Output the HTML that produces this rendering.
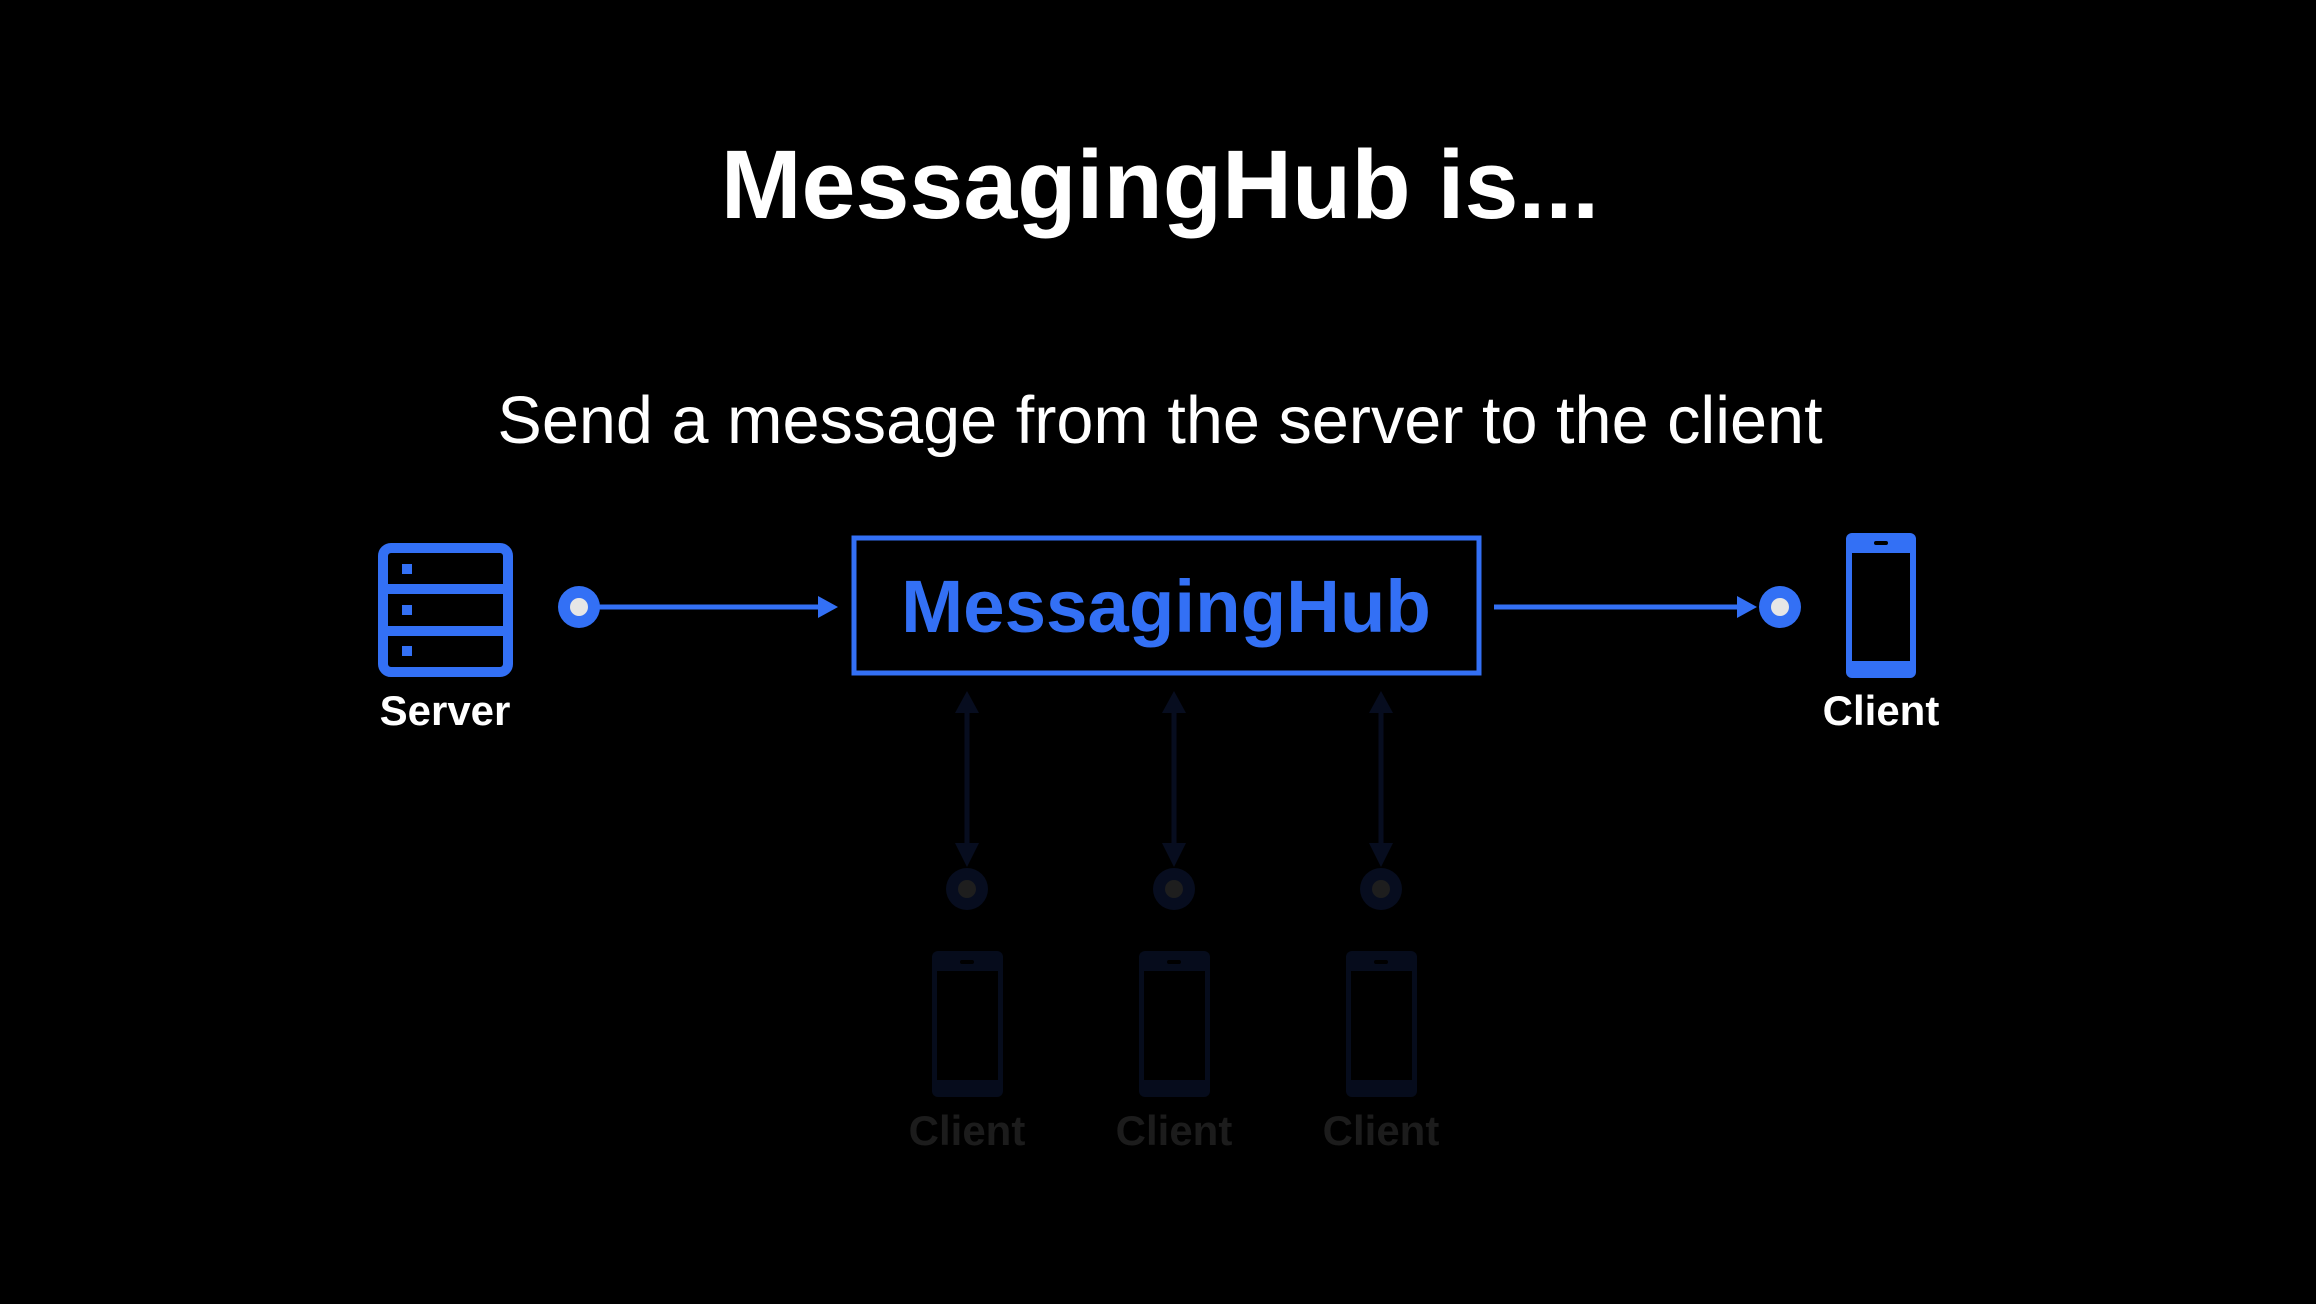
<!DOCTYPE html>
<html><head><meta charset="utf-8"><style>
html,body{margin:0;padding:0;background:#000;}
svg{display:block;}
</style></head><body>
<svg width="2316" height="1304" viewBox="0 0 2316 1304" xmlns="http://www.w3.org/2000/svg">
<rect width="2316" height="1304" fill="#000"/>
<text x="1160" y="218" text-anchor="middle" font-family="Liberation Sans, sans-serif" font-weight="bold" font-size="97" fill="#fff">MessagingHub is...</text>
<text x="1160" y="443" text-anchor="middle" font-family="Liberation Sans, sans-serif" font-size="66.6" fill="#fff">Send a message from the server to the client</text>

<!-- Server icon -->
<rect x="383" y="548" width="125" height="124" rx="8" fill="none" stroke="#3370f5" stroke-width="10"/>
<line x1="383" y1="589" x2="508" y2="589" stroke="#3370f5" stroke-width="10"/>
<line x1="383" y1="631" x2="508" y2="631" stroke="#3370f5" stroke-width="10"/>
<rect x="402" y="564" width="10" height="10" fill="#3370f5"/>
<rect x="402" y="605" width="10" height="10" fill="#3370f5"/>
<rect x="402" y="646" width="10" height="10" fill="#3370f5"/>
<text x="445" y="725" text-anchor="middle" font-family="Liberation Sans, sans-serif" font-weight="bold" font-size="42" fill="#fff">Server</text>

<!-- left dot + arrow -->
<circle cx="579" cy="607" r="21" fill="#3370f5"/>
<circle cx="579" cy="607" r="9" fill="#e6e6e6"/>
<line x1="595" y1="607" x2="822" y2="607" stroke="#3370f5" stroke-width="5"/>
<polygon points="838,607 818,596 818,618" fill="#3370f5"/>

<!-- hub box -->
<rect x="854" y="538" width="625" height="135" fill="none" stroke="#3370f5" stroke-width="5"/>
<text x="1166" y="632" text-anchor="middle" font-family="Liberation Sans, sans-serif" font-weight="bold" font-size="74.5" fill="#3370f5">MessagingHub</text>

<!-- right arrow + dot -->
<line x1="1494" y1="607" x2="1740" y2="607" stroke="#3370f5" stroke-width="5"/>
<polygon points="1757,607 1737,596 1737,618" fill="#3370f5"/>
<circle cx="1780" cy="607" r="21" fill="#3370f5"/>
<circle cx="1780" cy="607" r="9" fill="#e6e6e6"/>

<!-- right phone -->
<rect x="1846" y="533" width="70" height="145" rx="6" fill="#3370f5"/>
<rect x="1852" y="553" width="58" height="108" fill="#000"/>
<rect x="1874" y="541" width="14" height="4" rx="2" fill="#000"/>
<text x="1881" y="725" text-anchor="middle" font-family="Liberation Sans, sans-serif" font-weight="bold" font-size="42" fill="#fff">Client</text>

<!-- faint clients -->
<g id="fc">
<line x1="967" y1="705" x2="967" y2="855" stroke="#070d1f" stroke-width="5"/>
<polygon points="967,691 955,713 979,713" fill="#070d1f"/>
<polygon points="967,867 955,843 979,843" fill="#070d1f"/>
<circle cx="967" cy="889" r="21" fill="#070d1f"/>
<circle cx="967" cy="889" r="9" fill="#1e1e1e"/>
<rect x="932" y="951" width="71" height="146" rx="6" fill="#060c1c"/>
<rect x="937" y="971" width="61" height="109" fill="#000"/>
<rect x="960" y="960" width="14" height="4" rx="2" fill="#000"/>
<text x="967" y="1145" text-anchor="middle" font-family="Liberation Sans, sans-serif" font-weight="bold" font-size="42" fill="#1c1c1c">Client</text>
</g>
<use href="#fc" x="207"/>
<use href="#fc" x="414"/>
</svg>
</body></html>
